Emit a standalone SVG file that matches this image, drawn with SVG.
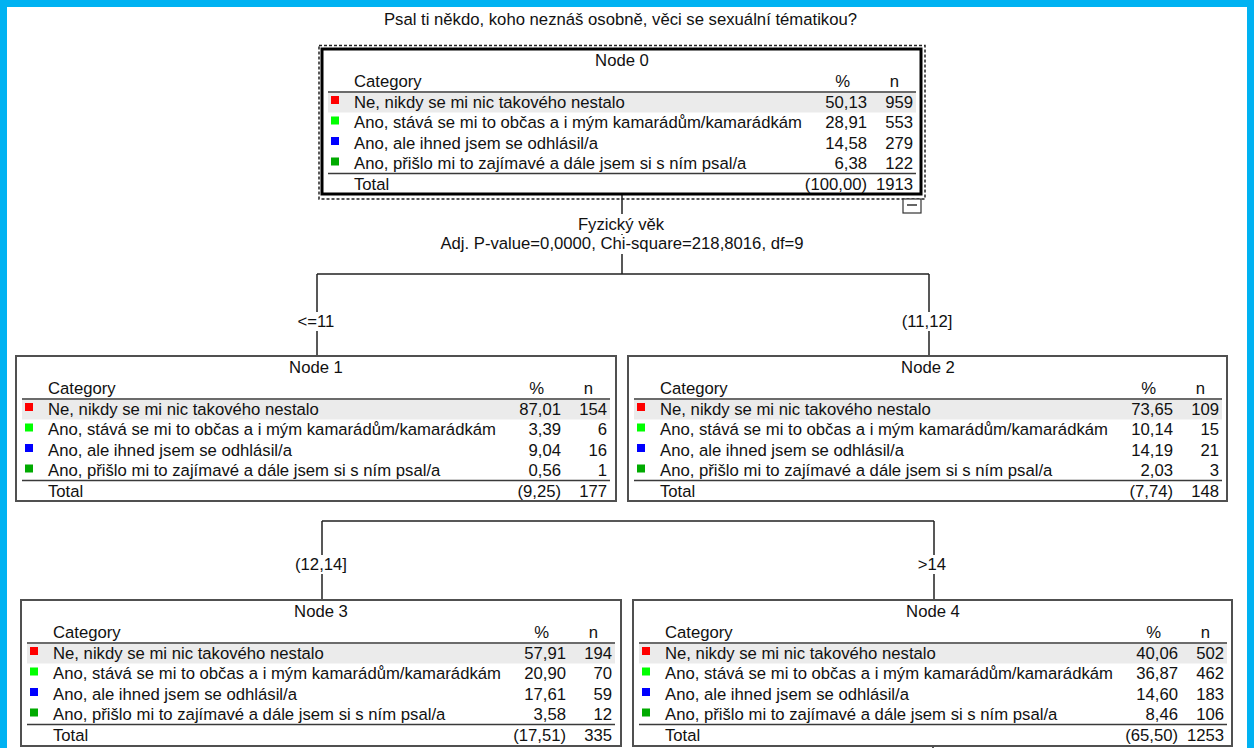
<svg xmlns="http://www.w3.org/2000/svg" width="1254" height="748" viewBox="0 0 1254 748">
<style>
.t{font-family:"Liberation Sans",Arial,sans-serif;font-size:16.7px;fill:#111}
.m{text-anchor:middle}
.e{text-anchor:end}
.box{fill:#fff;stroke:#505050;stroke-width:2}
.hl{fill:#ebebeb}
.rule{stroke:#3a3a3a;stroke-width:1.6}
.ln{fill:none;stroke:#222;stroke-width:1.5}
.bg{fill:#fff}
.c1{fill:#ff0000}.c2{fill:#00ff00}.c3{fill:#0000ff}.c4{fill:#00aa00}
</style>
<rect x="0" y="0" width="1254" height="748" fill="#fff"/>
<path d="M3.5,748 V3.5 H1250.5 V748" fill="none" stroke="#00b2f2" stroke-width="7"/>
<text class="t m" x="620.5" y="24.5">Psal ti někdo, koho neznáš osobně, věci se sexuální tématikou?</text>

<g id="connectors">
<path class="ln" d="M622,194 V274 M317,274 H929 M317,274 V356 M929,274 V356 M322,521 H934 M322,521 V600 M934,521 V600 M933,746 V748"/>
<rect class="bg" x="572" y="214" width="100" height="20"/>
<rect class="bg" x="438" y="235" width="370" height="19"/>
<text class="t m" x="621" y="230">Fyzický věk</text>
<text class="t m" x="622" y="249">Adj. P-value=0,0000, Chi-square=218,8016, df=9</text>
<rect class="bg" x="296" y="312" width="42" height="19"/>
<text class="t m" x="316" y="327">&lt;=11</text>
<rect class="bg" x="900" y="312" width="56" height="19"/>
<text class="t m" x="927" y="327">(11,12]</text>
<rect class="bg" x="293" y="555" width="56" height="19"/>
<text class="t m" x="321" y="570">(12,14]</text>
<rect class="bg" x="916" y="555" width="32" height="19"/>
<text class="t m" x="932" y="570">&gt;14</text>
</g>

<g id="node0">
<rect x="319" y="45.5" width="606" height="153.5" fill="none" stroke="#222" stroke-width="1.5" stroke-dasharray="3,2"/>
<g transform="translate(322,49)">
<rect x="0" y="0" width="599" height="145" fill="#fff" stroke="#000" stroke-width="3"/>
<text class="t m" x="300" y="17">Node 0</text>
<text class="t" x="32" y="38">Category</text>
<text class="t e" x="528" y="38">%</text>
<text class="t e" x="577" y="38">n</text>
<rect class="hl" x="6" y="44" width="588" height="19.5"/>
<line class="rule" x1="6" y1="43" x2="594" y2="43"/>
<rect class="c1" x="9" y="47" width="8" height="8"/>
<rect class="c2" x="9" y="67.5" width="8" height="8"/>
<rect class="c3" x="9" y="88" width="8" height="8"/>
<rect class="c4" x="9" y="108.5" width="8" height="8"/>
<text class="t" x="32" y="58.5">Ne, nikdy se mi nic takového nestalo</text>
<text class="t" x="32" y="79">Ano, stává se mi to občas a i mým kamarádům/kamarádkám</text>
<text class="t" x="32" y="99.5">Ano, ale ihned jsem se odhlásil/a</text>
<text class="t" x="32" y="120">Ano, přišlo mi to zajímavé a dále jsem si s ním psal/a</text>
<text class="t e" x="545" y="58.5">50,13</text><text class="t e" x="591" y="58.5">959</text>
<text class="t e" x="545" y="79">28,91</text><text class="t e" x="591" y="79">553</text>
<text class="t e" x="545" y="99.5">14,58</text><text class="t e" x="591" y="99.5">279</text>
<text class="t e" x="545" y="120">6,38</text><text class="t e" x="591" y="120">122</text>
<line class="rule" x1="6" y1="124.5" x2="594" y2="124.5"/>
<text class="t" x="32" y="140.5">Total</text>
<text class="t e" x="545" y="140.5">(100,00)</text><text class="t e" x="591" y="140.5">1913</text>
</g>
<rect x="903" y="199" width="18" height="14" fill="#fff" stroke="#333" stroke-width="1.2"/>
<line x1="907" y1="205" x2="917" y2="205" stroke="#333" stroke-width="1.5"/>
</g>

<g id="node1" transform="translate(16,356)">
<rect class="box" x="0" y="0" width="600" height="145"/>
<text class="t m" x="300" y="17">Node 1</text>
<text class="t" x="32" y="38">Category</text>
<text class="t e" x="528" y="38">%</text>
<text class="t e" x="577" y="38">n</text>
<rect class="hl" x="6" y="44" width="588" height="19.5"/>
<line class="rule" x1="6" y1="43" x2="594" y2="43"/>
<rect class="c1" x="9" y="47" width="8" height="8"/>
<rect class="c2" x="9" y="67.5" width="8" height="8"/>
<rect class="c3" x="9" y="88" width="8" height="8"/>
<rect class="c4" x="9" y="108.5" width="8" height="8"/>
<text class="t" x="32" y="58.5">Ne, nikdy se mi nic takového nestalo</text>
<text class="t" x="32" y="79">Ano, stává se mi to občas a i mým kamarádům/kamarádkám</text>
<text class="t" x="32" y="99.5">Ano, ale ihned jsem se odhlásil/a</text>
<text class="t" x="32" y="120">Ano, přišlo mi to zajímavé a dále jsem si s ním psal/a</text>
<text class="t e" x="545" y="58.5">87,01</text><text class="t e" x="591" y="58.5">154</text>
<text class="t e" x="545" y="79">3,39</text><text class="t e" x="591" y="79">6</text>
<text class="t e" x="545" y="99.5">9,04</text><text class="t e" x="591" y="99.5">16</text>
<text class="t e" x="545" y="120">0,56</text><text class="t e" x="591" y="120">1</text>
<line class="rule" x1="6" y1="124.5" x2="594" y2="124.5"/>
<text class="t" x="32" y="140.5">Total</text>
<text class="t e" x="545" y="140.5">(9,25)</text><text class="t e" x="591" y="140.5">177</text>
</g>

<g id="node2" transform="translate(628,356)">
<rect class="box" x="0" y="0" width="599" height="145"/>
<text class="t m" x="300" y="17">Node 2</text>
<text class="t" x="32" y="38">Category</text>
<text class="t e" x="528" y="38">%</text>
<text class="t e" x="577" y="38">n</text>
<rect class="hl" x="6" y="44" width="588" height="19.5"/>
<line class="rule" x1="6" y1="43" x2="594" y2="43"/>
<rect class="c1" x="9" y="47" width="8" height="8"/>
<rect class="c2" x="9" y="67.5" width="8" height="8"/>
<rect class="c3" x="9" y="88" width="8" height="8"/>
<rect class="c4" x="9" y="108.5" width="8" height="8"/>
<text class="t" x="32" y="58.5">Ne, nikdy se mi nic takového nestalo</text>
<text class="t" x="32" y="79">Ano, stává se mi to občas a i mým kamarádům/kamarádkám</text>
<text class="t" x="32" y="99.5">Ano, ale ihned jsem se odhlásil/a</text>
<text class="t" x="32" y="120">Ano, přišlo mi to zajímavé a dále jsem si s ním psal/a</text>
<text class="t e" x="545" y="58.5">73,65</text><text class="t e" x="591" y="58.5">109</text>
<text class="t e" x="545" y="79">10,14</text><text class="t e" x="591" y="79">15</text>
<text class="t e" x="545" y="99.5">14,19</text><text class="t e" x="591" y="99.5">21</text>
<text class="t e" x="545" y="120">2,03</text><text class="t e" x="591" y="120">3</text>
<line class="rule" x1="6" y1="124.5" x2="594" y2="124.5"/>
<text class="t" x="32" y="140.5">Total</text>
<text class="t e" x="545" y="140.5">(7,74)</text><text class="t e" x="591" y="140.5">148</text>
</g>

<g id="node3" transform="translate(21,600)">
<rect class="box" x="0" y="0" width="600" height="146"/>
<text class="t m" x="300" y="17">Node 3</text>
<text class="t" x="32" y="38">Category</text>
<text class="t e" x="528" y="38">%</text>
<text class="t e" x="577" y="38">n</text>
<rect class="hl" x="6" y="44" width="588" height="19.5"/>
<line class="rule" x1="6" y1="43" x2="594" y2="43"/>
<rect class="c1" x="9" y="47" width="8" height="8"/>
<rect class="c2" x="9" y="67.5" width="8" height="8"/>
<rect class="c3" x="9" y="88" width="8" height="8"/>
<rect class="c4" x="9" y="108.5" width="8" height="8"/>
<text class="t" x="32" y="58.5">Ne, nikdy se mi nic takového nestalo</text>
<text class="t" x="32" y="79">Ano, stává se mi to občas a i mým kamarádům/kamarádkám</text>
<text class="t" x="32" y="99.5">Ano, ale ihned jsem se odhlásil/a</text>
<text class="t" x="32" y="120">Ano, přišlo mi to zajímavé a dále jsem si s ním psal/a</text>
<text class="t e" x="545" y="58.5">57,91</text><text class="t e" x="591" y="58.5">194</text>
<text class="t e" x="545" y="79">20,90</text><text class="t e" x="591" y="79">70</text>
<text class="t e" x="545" y="99.5">17,61</text><text class="t e" x="591" y="99.5">59</text>
<text class="t e" x="545" y="120">3,58</text><text class="t e" x="591" y="120">12</text>
<line class="rule" x1="6" y1="124.5" x2="594" y2="124.5"/>
<text class="t" x="32" y="140.5">Total</text>
<text class="t e" x="545" y="140.5">(17,51)</text><text class="t e" x="591" y="140.5">335</text>
</g>

<g id="node4" transform="translate(633,600)">
<rect class="box" x="0" y="0" width="599" height="146"/>
<text class="t m" x="300" y="17">Node 4</text>
<text class="t" x="32" y="38">Category</text>
<text class="t e" x="528" y="38">%</text>
<text class="t e" x="577" y="38">n</text>
<rect class="hl" x="6" y="44" width="588" height="19.5"/>
<line class="rule" x1="6" y1="43" x2="594" y2="43"/>
<rect class="c1" x="9" y="47" width="8" height="8"/>
<rect class="c2" x="9" y="67.5" width="8" height="8"/>
<rect class="c3" x="9" y="88" width="8" height="8"/>
<rect class="c4" x="9" y="108.5" width="8" height="8"/>
<text class="t" x="32" y="58.5">Ne, nikdy se mi nic takového nestalo</text>
<text class="t" x="32" y="79">Ano, stává se mi to občas a i mým kamarádům/kamarádkám</text>
<text class="t" x="32" y="99.5">Ano, ale ihned jsem se odhlásil/a</text>
<text class="t" x="32" y="120">Ano, přišlo mi to zajímavé a dále jsem si s ním psal/a</text>
<text class="t e" x="545" y="58.5">40,06</text><text class="t e" x="591" y="58.5">502</text>
<text class="t e" x="545" y="79">36,87</text><text class="t e" x="591" y="79">462</text>
<text class="t e" x="545" y="99.5">14,60</text><text class="t e" x="591" y="99.5">183</text>
<text class="t e" x="545" y="120">8,46</text><text class="t e" x="591" y="120">106</text>
<line class="rule" x1="6" y1="124.5" x2="594" y2="124.5"/>
<text class="t" x="32" y="140.5">Total</text>
<text class="t e" x="545" y="140.5">(65,50)</text><text class="t e" x="591" y="140.5">1253</text>
</g>
</svg>
